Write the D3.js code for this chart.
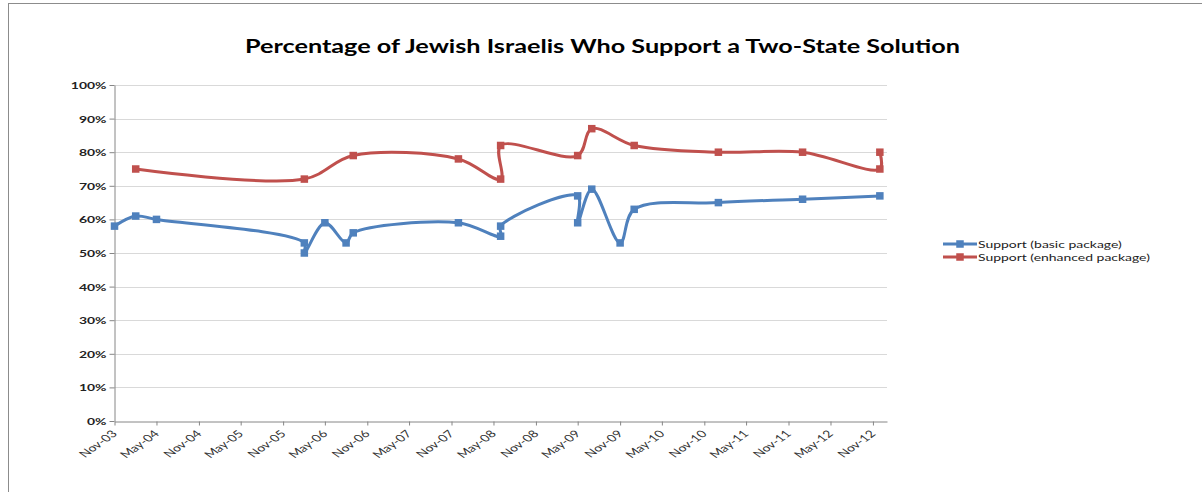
<!DOCTYPE html>
<html>
<head>
<meta charset="utf-8">
<script src="https://cdn.jsdelivr.net/npm/d3@7"></script>
<style>
  body { margin: 0; background: #fff; }
  svg { display: block; }
</style>
</head>
<body>
<svg id="chart" width="1202" height="492"></svg>
<script>
// Survey dates (repeated dates = two polls in the same month)
const basicDates  = ['2003-11-01','2004-02-01','2004-05-01','2006-02-01','2006-02-01','2006-05-01',
                     '2006-08-01','2006-09-01','2007-12-01','2008-06-01','2008-06-01','2009-05-01',
                     '2009-05-01','2009-07-01','2009-11-01','2010-01-01','2011-01-01','2012-01-01','2012-12-01'];
const basicValues = [58, 61, 60, 53, 50, 59, 53, 56, 59, 55, 58, 67, 59, 69, 53, 63, 65, 66, 67];

const enhancedDates  = ['2004-02-01','2006-02-01','2006-09-01','2007-12-01','2008-06-01','2008-06-01',
                        '2009-05-01','2009-07-01','2010-01-01','2011-01-01','2012-01-01','2012-12-01','2012-12-01'];
const enhancedValues = [75, 72, 79, 78, 72, 82, 79, 87, 82, 80, 80, 75, 80];

const seriesNames = ['Support (basic package)', 'Support (enhanced package)'];
const yTickValues = [0, 0.1, 0.2, 0.3, 0.4, 0.5, 0.6, 0.7, 0.8, 0.9, 1];
const xTickDates  = ['2003-11-01','2004-05-01','2004-11-01','2005-05-01','2005-11-01','2006-05-01',
                     '2006-11-01','2007-05-01','2007-11-01','2008-05-01','2008-11-01','2009-05-01',
                     '2009-11-01','2010-05-01','2010-11-01','2011-05-01','2011-11-01','2012-05-01','2012-11-01'];

const TITLE = 'Percentage of Jewish Israelis Who Support a Two-State Solution';
const BLUE = '#4F81BD';
const RED  = '#C0504D';
const GRID = '#d9d9d9';
const AXIS = '#868686';
const FONT = "Lato, 'Liberation Sans', Arial, sans-serif";

const parse = d3.timeParse('%Y-%m-%d');
const svg = d3.select('#chart');

// the source picture is stretched sideways, so text gets a horizontal scale
const probe = svg.append('text').attr('font-family', FONT).attr('font-size', 10).text(seriesNames[0]);
const SX = 144 / probe.node().getComputedTextLength();
probe.remove();

// frame
svg.append('rect')
  .attr('x', 8.5).attr('y', 3.5).attr('width', 1250).attr('height', 600)
  .attr('fill', 'none').attr('stroke', '#8c8c8c').attr('stroke-width', 1);

// title
svg.append('text')
  .attr('x', 245).attr('y', 53)
  .attr('font-family', FONT).attr('font-weight', 'bold').attr('font-size', 19)
  .attr('textLength', 715).attr('lengthAdjust', 'spacingAndGlyphs')
  .attr('fill', '#000')
  .text(TITLE);

const x = d3.scaleTime()
  .domain([parse('2003-11-01'), parse('2013-01-01')])
  .range([114.5, 887]);
const y = d3.scaleLinear().domain([0, 1]).range([421, 85]);

// gridlines
svg.append('g').selectAll('line')
  .data(yTickValues.filter(v => v > 0))
  .join('line')
  .attr('x1', 114.5).attr('x2', 887)
  .attr('y1', d => Math.round(y(d)) + 0.5).attr('y2', d => Math.round(y(d)) + 0.5)
  .attr('stroke', GRID).attr('stroke-width', 1);

// y axis
const yAxis = svg.append('g')
  .attr('transform', 'translate(114.5,0)')
  .call(d3.axisLeft(y).tickValues(yTickValues).tickFormat(d3.format('.0%')).tickSize(5).tickSizeOuter(0));
yAxis.select('.domain').attr('stroke', AXIS);
yAxis.selectAll('.tick line').attr('stroke', AXIS);
yAxis.selectAll('.tick text')
  .attr('x', 0).attr('dy', null).attr('y', 3.5)
  .attr('transform', `translate(-8,0) scale(${SX},1)`)
  .attr('font-family', FONT).attr('font-size', 10).attr('font-weight', 'bold')
  .attr('fill', '#222');

// x axis
const xAxis = svg.append('g')
  .attr('transform', 'translate(0,421.5)')
  .call(d3.axisBottom(x).tickValues(xTickDates.map(parse)).tickFormat(d3.timeFormat('%b-%y')).tickSize(4).tickSizeOuter(0));
xAxis.select('.domain').attr('stroke', AXIS);
xAxis.selectAll('.tick line').attr('stroke', AXIS);
xAxis.selectAll('.tick text')
  .attr('x', 0).attr('y', 0).attr('dy', null)
  .attr('text-anchor', 'end')
  .attr('transform', `translate(3,13) scale(${SX},1) rotate(-45)`)
  .attr('font-family', FONT).attr('font-size', 10)
  .attr('fill', '#333');

// series
const series = [
  { name: seriesNames[0], color: BLUE, points: basicDates.map((d, i) => ({ date: parse(d), value: basicValues[i] / 100 })) },
  { name: seriesNames[1], color: RED,  points: enhancedDates.map((d, i) => ({ date: parse(d), value: enhancedValues[i] / 100 })) },
];

const line = d3.line()
  .x(d => x(d.date))
  .y(d => y(d.value))
  .curve(d3.curveCatmullRom.alpha(0.5));

const MS = 7.5; // marker size
series.forEach(s => {
  svg.append('path')
    .attr('d', line(s.points))
    .attr('fill', 'none')
    .attr('stroke', s.color)
    .attr('stroke-width', 3)
    .attr('stroke-linejoin', 'round');
  svg.append('g').selectAll('rect')
    .data(s.points)
    .join('rect')
    .attr('x', d => x(d.date) - MS / 2)
    .attr('y', d => y(d.value) - MS / 2)
    .attr('width', MS).attr('height', MS)
    .attr('fill', s.color);
});

// legend
const legend = svg.append('g').attr('transform', 'translate(943,244)');
series.forEach((s, i) => {
  const g = legend.append('g').attr('transform', `translate(0,${i * 13})`);
  g.append('line').attr('x1', 0).attr('x2', 34).attr('y1', 0).attr('y2', 0)
    .attr('stroke', s.color).attr('stroke-width', 3);
  g.append('rect').attr('x', 17 - MS / 2).attr('y', -MS / 2).attr('width', MS).attr('height', MS)
    .attr('fill', s.color);
  g.append('text')
    .attr('x', 0).attr('y', 3.5)
    .attr('transform', `translate(35,0) scale(${SX},1)`)
    .attr('font-family', FONT).attr('font-size', 10)
    .attr('fill', '#222')
    .text(s.name);
});
</script>
</body>
</html>
